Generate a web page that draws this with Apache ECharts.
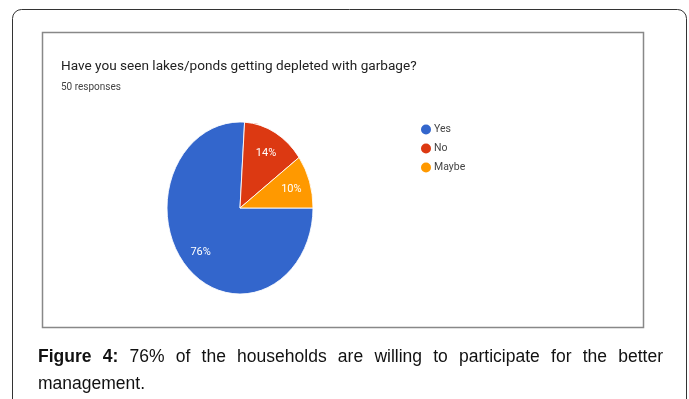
<!DOCTYPE html>
<html>
<head>
<meta charset="utf-8">
<script src="https://cdn.jsdelivr.net/npm/echarts@6/dist/echarts.min.js"></script>
<style>
  html, body { margin: 0; padding: 0; background: #fff; }
  #wrap { position: relative; width: 689px; height: 399px; overflow: hidden; }
  #chart { position: absolute; left: 0; top: 0; width: 689px; height: 399px; }
  #caption {
    position: absolute; left: 38px; top: 343px; width: 625px;
    font-family: 'Liberation Sans', Arial, sans-serif; font-size: 17.5px; line-height: 27px;
    color: #111; text-align: justify;
  }
</style>
</head>
<body>
<div id="wrap">
  <div id="chart"></div>
  <div id="caption"><b>Figure 4:</b> 76% of the households are willing to participate for the better management.</div>
</div>
<script>
// ---- data ----
const titleText = 'Have you seen lakes/ponds getting depleted with garbage?';
const subtitleText = '50 responses';
const categories = ['Yes', 'No', 'Maybe'];
const responses = [38, 7, 5];               // 76%, 14%, 10% of 50
const sliceColors = ['#3366cc', '#dc3912', '#ff9900'];

const total = responses.reduce((a, b) => a + b, 0);

const chart = echarts.init(document.getElementById('chart'), null, { renderer: 'canvas' });

function makeRender(catIndex) {
  return function (params, api) {
    const cx = 240, cy = 208, rx = 73, ry = 86;
    let before = 0;
    for (let k = 0; k < catIndex; k++) before += responses[k];
    const v = api.value(0);
    const f0 = before / total, f1 = (before + v) / total;
    // slices laid out clockwise starting at 3 o'clock
    const a0 = f0 * 2 * Math.PI;
    const a1 = f1 * 2 * Math.PI;
    const mid = (a0 + a1) / 2;
    const lr = 0.74;
    const pct = Math.round(v / total * 100) + '%';
    return {
      type: 'group',
      children: [
        {
          type: 'sector',
          x: cx, y: cy, scaleY: ry / rx,
          shape: { cx: 0, cy: 0, r0: 0, r: rx, startAngle: a0, endAngle: a1, clockwise: true },
          style: { fill: api.visual('color'), stroke: '#ffffff', lineWidth: 0.8 }
        },
        {
          type: 'text',
          x: cx + lr * rx * Math.cos(mid),
          y: cy + lr * ry * Math.sin(mid) + 1,
          style: {
            text: pct, fill: '#ffffff', fontSize: 11,
            fontFamily: 'Roboto, Arial, sans-serif',
            align: 'center', verticalAlign: 'middle'
          }
        }
      ]
    };
  };
}

const series = categories.map((c, i) => ({
  type: 'custom',
  name: c,
  coordinateSystem: 'none',
  renderItem: makeRender(i),
  itemStyle: { color: sliceColors[i] },
  data: [[responses[i]]],
  animation: false
}));

chart.setOption({
  animation: false,
  color: sliceColors,
  title: {
    text: titleText,
    subtext: subtitleText,
    left: 61, top: 60,
    itemGap: 8,
    padding: 0,
    textStyle: { fontFamily: 'Roboto, Arial, sans-serif', fontSize: 13.6, fontWeight: 'normal', color: '#222' },
    subtextStyle: { fontFamily: 'Roboto, Arial, sans-serif', fontSize: 10, color: '#444' }
  },
  legend: {
    orient: 'vertical',
    left: 421, top: 124,
    padding: 0,
    itemGap: 8,
    itemWidth: 10, itemHeight: 10,
    icon: 'circle',
    data: categories,
    textStyle: { fontFamily: 'Roboto, Arial, sans-serif', fontSize: 10.5, color: '#444', padding: [0, 0, 0, -2] }
  },
  graphic: [
    {
      type: 'rect', silent: true,
      shape: { x: 12.5, y: 9.5, width: 674, height: 420, r: 9 },
      style: { fill: 'none', stroke: '#333', lineWidth: 1 }
    },
    {
      type: 'rect', silent: true,
      shape: { x: 42.5, y: 32.5, width: 601, height: 295 },
      style: { fill: 'none', stroke: '#888', lineWidth: 1.5 }
    }
  ],
  series: series
});
</script>
</body>
</html>
